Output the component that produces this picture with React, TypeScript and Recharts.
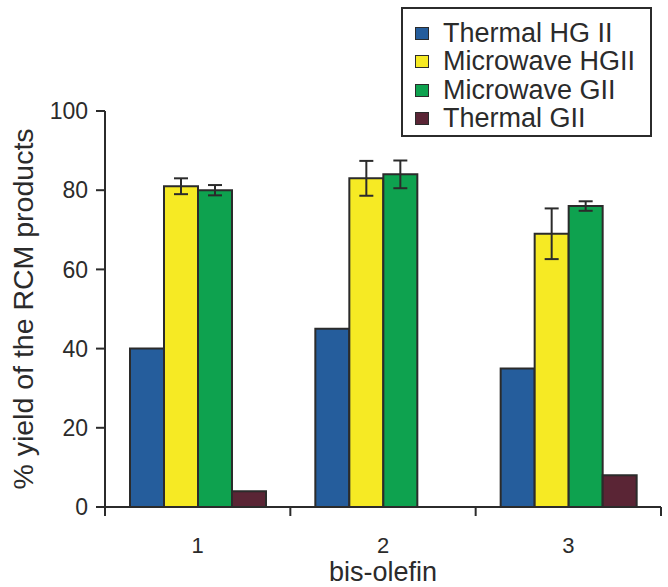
import React from "react";
import {
  BarChart,
  Bar,
  XAxis,
  YAxis,
  ErrorBar,
  Legend,
  Label,
} from "recharts";

const categories = ["1", "2", "3"];
const thermalHG = [40, 45, 35];
const microwaveHG = [81, 83, 69];
const microwaveHGErr = [2, 4.4, 6.4];
const microwaveG = [80, 84, 76];
const microwaveGErr = [1.3, 3.5, 1.2];
const thermalG = [4, 0, 8];
const yTicks = [0, 20, 40, 60, 80, 100];

const seriesNames = ["Thermal HG II", "Microwave HGII", "Microwave GII", "Thermal GII"];
const seriesColors = ["#255d9c", "#f6ea24", "#0ea24f", "#5a2535"];

const data = categories.map((c, i) => ({
  name: c,
  thermalHG: thermalHG[i],
  microwaveHG: microwaveHG[i],
  microwaveHGErr: microwaveHGErr[i],
  microwaveG: microwaveG[i],
  microwaveGErr: microwaveGErr[i],
  thermalG: thermalG[i],
}));

const W = 668;
const H = 587;
const margin = { top: 111, right: 7, left: 0, bottom: 0 };
const Y_AXIS_W = 105;
const X_AXIS_H = 80;
const band = (W - margin.left - margin.right - Y_AXIS_W) / categories.length;

const ink = "#2b2b2b";
const font = "'Liberation Sans', Arial, sans-serif";

function XTick(props: any) {
  const { x, y, payload, index, visibleTicksCount } = props;
  const left = x - band / 2;
  const right = x + band / 2;
  return (
    <g>
      <line x1={left} y1={y} x2={left} y2={y + 9} stroke={ink} strokeWidth={2} />
      {index === visibleTicksCount - 1 && (
        <line x1={right} y1={y} x2={right} y2={y + 9} stroke={ink} strokeWidth={2} />
      )}
      <text x={x} y={y + 46} textAnchor="middle" fill={ink} fontSize={22} fontFamily={font}>
        {payload.value}
      </text>
    </g>
  );
}

function LegendBox() {
  return (
    <div
      style={{
        border: `2px solid ${ink}`,
        background: "#fff",
        padding: "10px 0 4px 12px",
        boxSizing: "border-box",
        width: 251,
        height: 130,
        fontFamily: font,
        fontSize: 27,
        color: ink,
      }}
    >
      {seriesNames.map((n, i) => (
        <div key={n} style={{ display: "flex", alignItems: "center", height: 28.5 }}>
          <span
            style={{
              display: "inline-block",
              width: 14,
              height: 13,
              background: seriesColors[i],
              border: `1.5px solid ${ink}`,
              boxSizing: "border-box",
              marginRight: 14,
            }}
          />
          <span style={{ whiteSpace: "nowrap" }}>{n}</span>
        </div>
      ))}
    </div>
  );
}

export default function App() {
  return (
    <div style={{ position: "absolute", left: 0, top: 0, width: W, height: H, background: "#fff" }}>
      <BarChart width={W} height={H} data={data} margin={margin} barCategoryGap={25} barGap={0}>
        <XAxis
          dataKey="name"
          height={X_AXIS_H}
          axisLine={{ stroke: ink, strokeWidth: 2 }}
          tickLine={false}
          tickSize={0}
          tickMargin={0}
          tick={<XTick />}
          interval={0}
        >
          <Label
            value="bis-olefin"
            position="insideBottom"
            offset={6}
            style={{ fontSize: 27, fontFamily: font, fill: ink }}
          />
        </XAxis>
        <YAxis
          width={Y_AXIS_W}
          domain={[0, 100]}
          ticks={yTicks}
          interval={0}
          axisLine={{ stroke: ink, strokeWidth: 2 }}
          tickLine={{ stroke: ink, strokeWidth: 2 }}
          tickSize={9}
          tickMargin={8}
          tick={{ fill: ink, fontSize: 23, fontFamily: font }}
        >
          <Label
            value="% yield of the RCM products"
            angle={-90}
            position="insideLeft"
            offset={23}
            style={{ textAnchor: "middle", fontSize: 28.5, fontFamily: font, fill: ink }}
          />
        </YAxis>
        <Legend
          layout="vertical"
          align="center"
          verticalAlign="middle"
          wrapperStyle={{ left: 401, top: 7, width: 251, height: 130 }}
          content={() => <LegendBox />}
        />
        <Bar dataKey="thermalHG" name={seriesNames[0]} fill={seriesColors[0]} stroke={ink} strokeWidth={2} isAnimationActive={false} />
        <Bar dataKey="microwaveHG" name={seriesNames[1]} fill={seriesColors[1]} stroke={ink} strokeWidth={2} isAnimationActive={false}>
          <ErrorBar dataKey="microwaveHGErr" width={7} stroke={ink} strokeWidth={2} direction="y" />
        </Bar>
        <Bar dataKey="microwaveG" name={seriesNames[2]} fill={seriesColors[2]} stroke={ink} strokeWidth={2} isAnimationActive={false}>
          <ErrorBar dataKey="microwaveGErr" width={7} stroke={ink} strokeWidth={2} direction="y" />
        </Bar>
        <Bar dataKey="thermalG" name={seriesNames[3]} fill={seriesColors[3]} stroke={ink} strokeWidth={2} isAnimationActive={false} />
      </BarChart>
    </div>
  );
}
